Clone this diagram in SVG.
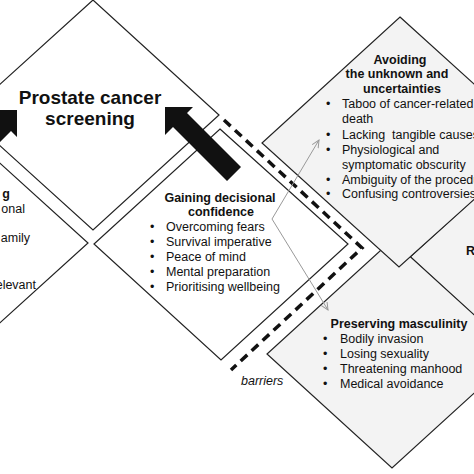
<svg xmlns="http://www.w3.org/2000/svg" width="474" height="474" viewBox="0 0 474 474">
<style>
.d{stroke:#222;stroke-width:1.2;fill:#fff}
.gr{fill:#f3f3f3}
.t{font-family:"Liberation Sans",Arial,Helvetica,sans-serif;font-size:12.5px;fill:#111}
.b{font-weight:bold}
.m{text-anchor:middle}
.e{text-anchor:end}
.title{font-family:"Liberation Sans",Arial,Helvetica,sans-serif;font-size:19px;font-weight:bold;fill:#111;text-anchor:middle}
.arr{fill:#111}
.dash{fill:none;stroke:#111;stroke-width:3.5;stroke-dasharray:9 6}
.thin{fill:none;stroke:#999;stroke-width:1;marker-end:url(#ah)}
</style>
<defs>
<marker id="ah" markerUnits="userSpaceOnUse" markerWidth="10" markerHeight="10" refX="8" refY="4" orient="auto">
<path d="M0.5,0.5 L8,4 L0.5,7.5" fill="none" stroke="#999" stroke-width="1"/>
</marker>
</defs>
<rect width="474" height="474" fill="#fff"/>
<g id="node-left">
<polygon class="d" points="-39,128 88,243 -39,358 -166,243"/>
<text class="t b e" x="10" y="197.5">g</text>
<text class="t e" x="25" y="212.5">onal</text>
<text class="t e" x="30" y="242">amily</text>
<text class="t e" x="36" y="288.5">elevant</text>
</g>
<g id="node-screening">
<polygon class="d" points="93,0 219,115 93,230 -34,115"/>
<text class="title" x="90" y="104">Prostate cancer</text>
<text class="title" x="90" y="124.5">screening</text>
</g>
<g id="node-gaining">
<polygon class="d" points="220,129 348,244 221,360 94,244"/>
<text class="t b m" x="220" y="201.5">Gaining decisional</text>
<text class="t b m" x="221" y="215.5">confidence</text>
<text class="t" x="150" y="231">•</text><text class="t" x="166" y="231">Overcoming fears</text>
<text class="t" x="150" y="246">•</text><text class="t" x="166" y="246">Survival imperative</text>
<text class="t" x="150" y="261">•</text><text class="t" x="166" y="261">Peace of mind</text>
<text class="t" x="150" y="276">•</text><text class="t" x="166" y="276">Mental preparation</text>
<text class="t" x="150" y="291">•</text><text class="t" x="166" y="291">Prioritising wellbeing</text>
</g>
<g id="node-r">
<polygon class="d gr" points="410,257 535,143 660,257 535,371"/>
<text class="t b" x="466" y="254.5">R</text>
</g>
<g id="node-preserving">
<polygon class="d gr" points="392,240 517,354 392,468 267,354"/>
<text class="t b m" x="399" y="328">Preserving masculinity</text>
<text class="t" x="323" y="343">•</text><text class="t" x="340" y="343">Bodily invasion</text>
<text class="t" x="323" y="358">•</text><text class="t" x="340" y="358">Losing sexuality</text>
<text class="t" x="323" y="373">•</text><text class="t" x="340" y="373">Threatening manhood</text>
<text class="t" x="323" y="388">•</text><text class="t" x="340" y="388">Medical avoidance</text>
</g>
<g id="node-avoiding">
<polygon class="d gr" points="400,17 538,142 399,267 262,143"/>
<text class="t b m" x="400" y="63.5">Avoiding</text>
<text class="t b m" x="397" y="78">the unknown and</text>
<text class="t b m" x="402" y="93">uncertainties</text>
<text class="t" x="326" y="108">•</text><text class="t" x="342" y="108">Taboo of cancer-related</text>
<text class="t" x="342" y="123">death</text>
<text class="t" x="326" y="138.5">•</text><text class="t" x="342" y="138.5" xml:space="preserve">Lacking  tangible causes</text>
<text class="t" x="326" y="153.5">•</text><text class="t" x="342" y="153.5">Physiological and</text>
<text class="t" x="342" y="168.5">symptomatic obscurity</text>
<text class="t" x="326" y="183.5">•</text><text class="t" x="342" y="183.5">Ambiguity of the procedure</text>
<text class="t" x="326" y="198">•</text><text class="t" x="342" y="198">Confusing controversies</text>
</g>
<g id="connectors">
<polygon class="arr" points="165,107 193,107 187,113 241,167 227,181 173,127 165,135"/>
<polygon class="arr" points="17,110 17,137 11,131 -40,182 -55,167 -4,116 -10,110"/>
<polyline class="dash" points="224,120 362,248 231,370"/>
<path class="thin" d="M272,219 L319,140"/>
<path class="thin" d="M272,219 L328,310"/>
</g>
<text class="t" x="241" y="385" font-style="italic">barriers</text>
</svg>
